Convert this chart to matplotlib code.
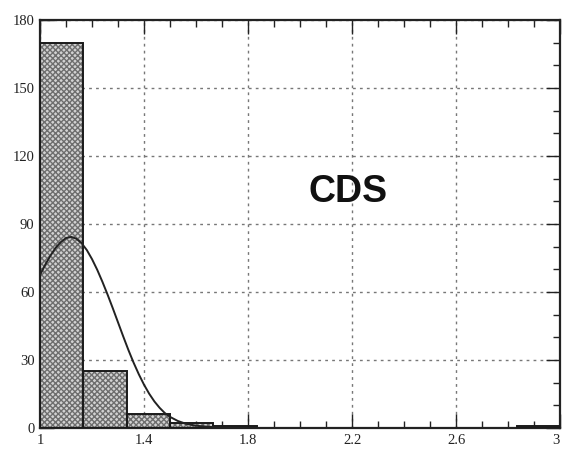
#!/usr/bin/env python3
import numpy as np
from matplotlib import pyplot as plt
from matplotlib.ticker import MultipleLocator

# histogram bins (width 1/6) and counts
bin_edges = [1.0, 1.1667, 1.3333, 1.5, 1.6667, 1.8333, 2.0,
             2.1667, 2.3333, 2.5, 2.6667, 2.8333, 3.0]
counts = [170, 25, 6, 2, 1, 0, 0, 0, 0, 0, 0, 1]

# fitted curve, points
curve_x = [1.0, 1.02, 1.04, 1.06, 1.08, 1.10, 1.12, 1.14, 1.16, 1.18,
           1.20, 1.22, 1.24, 1.26, 1.28, 1.30, 1.32, 1.34, 1.36, 1.38,
           1.40, 1.42, 1.44, 1.46, 1.48, 1.50, 1.53, 1.56, 1.60, 1.65,
           1.70, 1.78, 1.86]
curve_y = [67.5, 72.0, 76.0, 79.5, 82.0, 83.8, 84.3, 83.5, 81.5, 78.5,
           74.5, 69.8, 64.5, 58.8, 52.8, 46.6, 40.4, 34.4, 28.8, 23.7,
           19.1, 15.1, 11.7, 8.9, 6.6, 4.9, 3.1, 1.9, 1.0, 0.5,
           0.2, 0.05, 0.0]

x_ticks = [1, 1.4, 1.8, 2.2, 2.6, 3]
x_labels = ['1', '1.4', '1.8', '2.2', '2.6', '3']
y_ticks = [0, 30, 60, 90, 120, 150, 180]


def main():
    fig = plt.figure(figsize=(5.62, 4.5), dpi=100)
    ax = fig.add_axes([0.0712, 0.0489, 0.9253, 0.9067])

    lefts = np.array(bin_edges[:-1])
    widths = np.diff(bin_edges)
    heights = np.array(counts)
    keep = heights > 0

    # stippled fill, then black outline on top
    ax.bar(lefts[keep], heights[keep], width=widths[keep], align='edge',
           color='#d2d2d2', hatch='xxxxxx', edgecolor='#6e6e6e', linewidth=0, zorder=2)
    ax.bar(lefts[keep], heights[keep], width=widths[keep], align='edge',
           fill=False, edgecolor='#1a1a1a', linewidth=1.4, zorder=3)

    ax.plot(curve_x, curve_y, color='#222222', linewidth=1.4, zorder=4)

    ax.text(2.185, 104, 'CDS', fontsize=27, fontweight='bold',
            family='Liberation Sans', ha='center', va='center', color='#111111')

    ax.set_xlim(1, 3)
    ax.set_ylim(0, 180)
    ax.set_xticks(x_ticks)
    ax.set_xticklabels(x_labels)
    ax.set_yticks(y_ticks)
    ax.xaxis.set_minor_locator(MultipleLocator(0.1))
    ax.yaxis.set_minor_locator(MultipleLocator(10))

    ax.grid(True, which='major', color='#777777', linestyle=(0, (2, 3)), linewidth=1.0, zorder=1)
    ax.set_axisbelow(True)

    ax.tick_params(which='both', direction='in', top=True, right=True,
                   width=1.0, colors='#222222')
    ax.tick_params(which='major', length=10, pad=4, labelsize=10.5)
    ax.tick_params(which='minor', length=5)
    for lab in ax.get_xticklabels() + ax.get_yticklabels():
        lab.set_family('Liberation Serif')
    # last x label sits at the figure edge; keep it inside
    ax.get_xticklabels()[-1].set_horizontalalignment('right')

    for s in ax.spines.values():
        s.set_linewidth(1.6)
        s.set_color('#222222')

    fig.savefig('out.png', dpi=100)


if __name__ == "__main__":
    main()
